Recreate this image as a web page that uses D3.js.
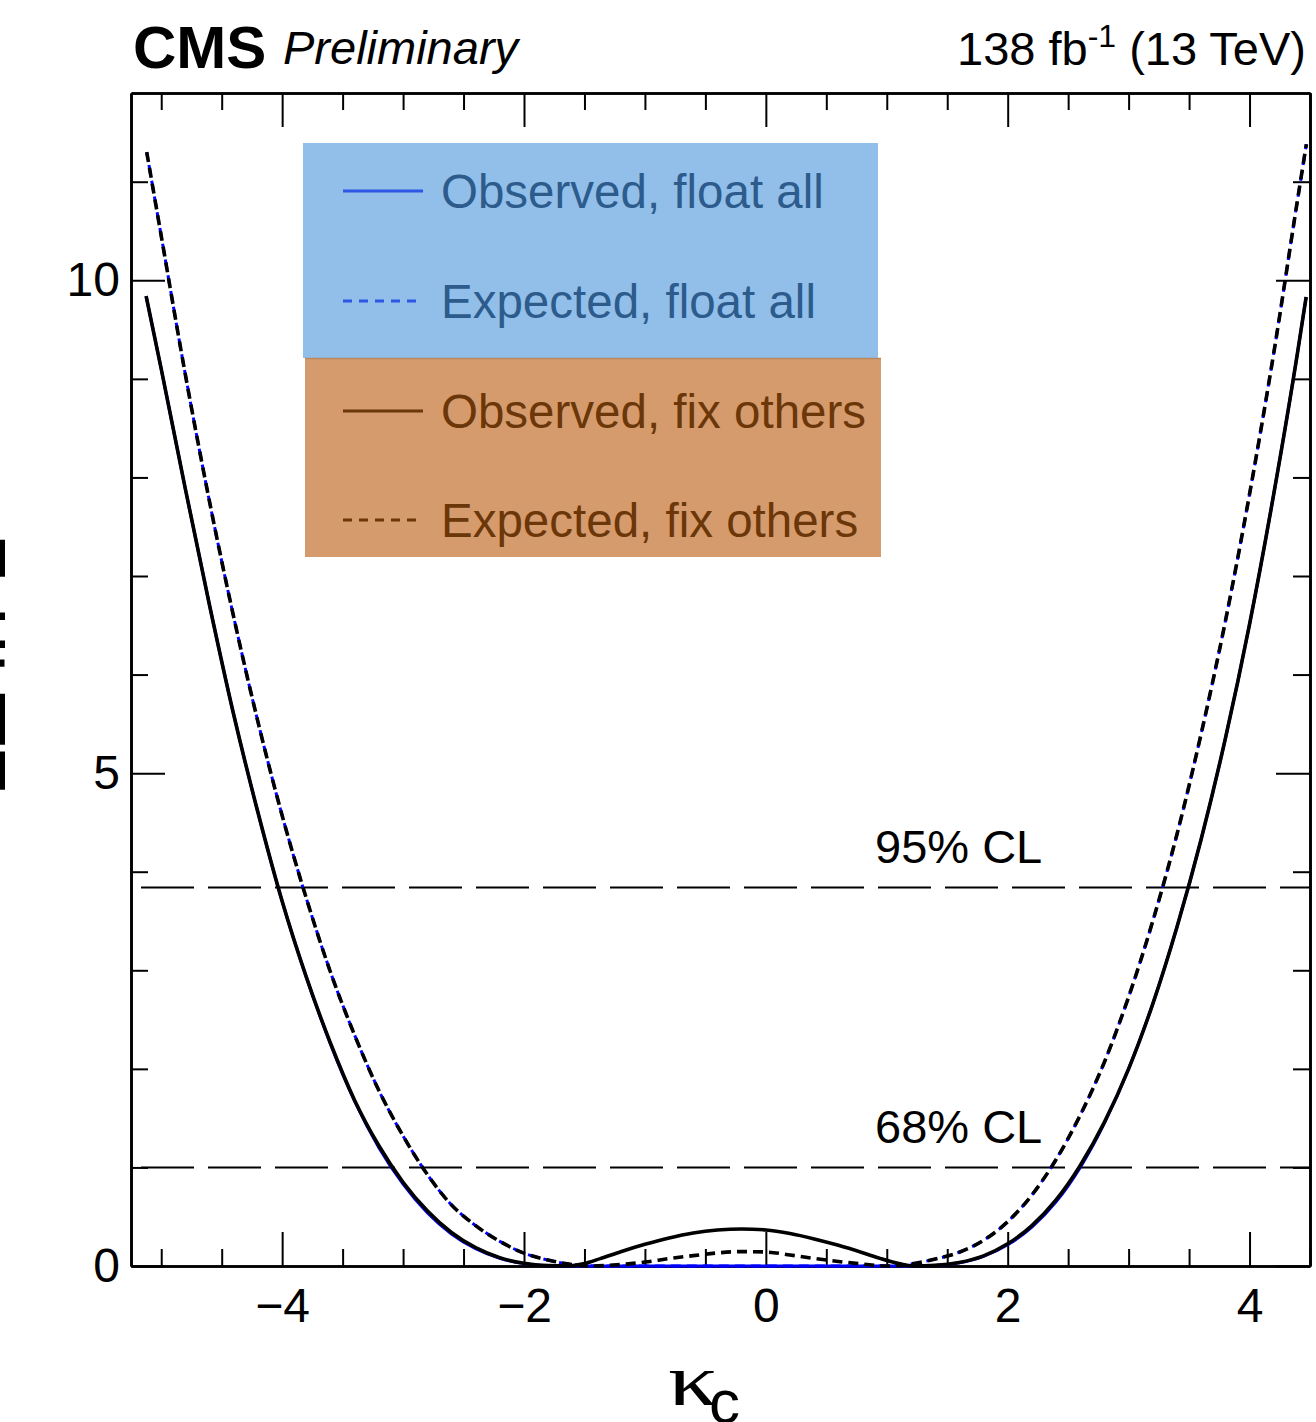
<!DOCTYPE html>
<html>
<head>
<meta charset="utf-8">
<script src="https://cdn.jsdelivr.net/npm/d3@7"></script>
<style>
  html, body { margin: 0; padding: 0; background: #fff; }
  svg { display: block; }
  text { font-family: "Liberation Sans", Arial, Helvetica, sans-serif; }
</style>
</head>
<body>
<svg id="chart" width="1316" height="1422"></svg>
<script>
// ---- Likelihood scan of kappa_c: -2 Delta ln L values ----
// Observed, fix others (black solid)
const kappaObsFix = [-5.125, -5.0, -4.8, -4.6, -4.4, -4.2, -4.0, -3.8, -3.6, -3.4, -3.2, -3.0, -2.8, -2.6, -2.4, -2.2, -2.0, -1.8, -1.64, -1.5, -1.37, -1.2, -1.0, -0.8, -0.6, -0.4, -0.2, 0.0, 0.2, 0.4, 0.6, 0.8, 0.95, 1.1, 1.22, 1.4, 1.6, 1.8, 2.0, 2.2, 2.4, 2.6, 2.8, 3.0, 3.2, 3.4, 3.6, 3.8, 4.0, 4.2, 4.4, 4.468];
const dnllObsFix  = [9.84, 9.1, 7.88, 6.7, 5.59, 4.6, 3.7, 2.93, 2.26, 1.68, 1.22, 0.85, 0.56, 0.34, 0.186, 0.084, 0.027, 0.004, 0.0, 0.025, 0.075, 0.145, 0.22, 0.285, 0.335, 0.365, 0.376, 0.366, 0.33, 0.275, 0.21, 0.135, 0.075, 0.025, 0.0, 0.006, 0.035, 0.103, 0.225, 0.41, 0.67, 1.02, 1.46, 2.0, 2.66, 3.44, 4.33, 5.35, 6.51, 7.83, 9.29, 9.83];

// Observed, float all (blue solid)
const kappaObsFloat = [-5.125, -5.0, -4.8, -4.6, -4.4, -4.2, -4.0, -3.8, -3.6, -3.4, -3.2, -3.0, -2.8, -2.6, -2.4, -2.2, -2.0, -1.8, -1.64, -1.2, -0.6, 0.0, 0.6, 1.22, 1.4, 1.6, 1.8, 2.0, 2.2, 2.4, 2.6, 2.8, 3.0, 3.2, 3.4, 3.6, 3.8, 4.0, 4.2, 4.4, 4.468];
const dnllObsFloat  = [9.84, 9.1, 7.88, 6.7, 5.59, 4.6, 3.7, 2.93, 2.25, 1.67, 1.2, 0.83, 0.54, 0.325, 0.175, 0.078, 0.024, 0.003, 0.0, 0.0, 0.0, 0.0, 0.0, 0.0, 0.005, 0.032, 0.098, 0.215, 0.395, 0.65, 1.0, 1.45, 2.0, 2.66, 3.44, 4.33, 5.35, 6.51, 7.83, 9.29, 9.83];

// Expected, fix others (black dashed)
const kappaExpFix = [-5.12, -5.0, -4.8, -4.6, -4.4, -4.2, -4.0, -3.8, -3.6, -3.4, -3.2, -3.0, -2.8, -2.6, -2.4, -2.2, -2.0, -1.8, -1.6, -1.45, -1.2, -1.0, -0.8, -0.6, -0.4, -0.2, 0.0, 0.2, 0.4, 0.6, 0.8, 1.0, 1.2, 1.4, 1.6, 1.8, 2.0, 2.2, 2.4, 2.6, 2.8, 3.0, 3.2, 3.4, 3.6, 3.8, 4.0, 4.2, 4.4, 4.47];
const dnllExpFix  = [11.3, 10.45, 9.04, 7.75, 6.58, 5.52, 4.57, 3.73, 2.98, 2.34, 1.78, 1.32, 0.93, 0.62, 0.41, 0.25, 0.13, 0.06, 0.015, 0.0, 0.015, 0.04, 0.075, 0.105, 0.133, 0.146, 0.142, 0.112, 0.077, 0.046, 0.02, 0.0, 0.02, 0.07, 0.14, 0.26, 0.45, 0.72, 1.08, 1.53, 2.07, 2.73, 3.5, 4.38, 5.4, 6.54, 7.83, 9.26, 10.84, 11.38];

// Expected, float all (blue dashed)
const kappaExpFloat = [-5.12, -5.0, -4.8, -4.6, -4.4, -4.2, -4.0, -3.8, -3.6, -3.4, -3.2, -3.0, -2.8, -2.6, -2.4, -2.2, -2.0, -1.8, -1.6, -1.45, -1.0, -0.5, 0.0, 0.5, 1.0, 1.2, 1.4, 1.6, 1.8, 2.0, 2.2, 2.4, 2.6, 2.8, 3.0, 3.2, 3.4, 3.6, 3.8, 4.0, 4.2, 4.4, 4.47];
const dnllExpFloat  = [11.3, 10.45, 9.04, 7.75, 6.58, 5.52, 4.57, 3.73, 2.98, 2.34, 1.78, 1.32, 0.93, 0.62, 0.41, 0.25, 0.13, 0.06, 0.015, 0.0, 0.0, 0.0, 0.0, 0.0, 0.0, 0.02, 0.07, 0.14, 0.26, 0.45, 0.72, 1.08, 1.53, 2.07, 2.73, 3.5, 4.38, 5.4, 6.54, 7.83, 9.26, 10.84, 11.38];

// Confidence-level thresholds
const clValues = [1.0, 3.84];
const clLabels = ["68% CL", "95% CL"];

// Axis ticks
const xMajorTicks = [-4, -2, 0, 2, 4];
const xMinorTicks = [-5, -4.5, -3.5, -3, -2.5, -1.5, -1, -0.5, 0.5, 1, 1.5, 2.5, 3, 3.5, 4.5];
const yMajorTicks = [0, 5, 10];
const yMinorTicks = [1, 2, 3, 4, 6, 7, 8, 9, 11];

// Legend
const legendLabels = ["Observed, float all", "Expected, float all", "Observed, fix others", "Expected, fix others"];

// ---- Layout ----
const svg = d3.select("#chart");
const L = 131, R = 1310, T = 93, B = 1266;
const x = d3.scaleLinear().domain([-5.25, 4.5]).range([L, R]);
const y = d3.scaleLinear().domain([0, 11.9]).range([B, T]);

const tickFont = 48;
const majorLen = 34, minorLen = 17;

function styleAxis(g, showLabels) {
  g.attr("font-family", null).attr("font-size", null);
  g.selectAll("path.domain").attr("stroke", "#000").attr("stroke-width", 2.6);
  g.selectAll(".tick line").attr("stroke", "#000").attr("stroke-width", 2);
  if (showLabels) {
    g.selectAll(".tick text").attr("fill", "#000").style("font-size", tickFont + "px")
      .style("font-family", '"Liberation Sans", Arial, Helvetica, sans-serif');
  } else {
    g.selectAll(".tick text").remove();
  }
}

// Minor ticks (no labels), on all four sides
svg.append("g").attr("transform", `translate(0,${B})`)
  .call(d3.axisBottom(x).tickValues(xMinorTicks).tickSize(-minorLen).tickSizeOuter(0).tickFormat(""))
  .call(g => styleAxis(g, false));
svg.append("g").attr("transform", `translate(0,${T})`)
  .call(d3.axisTop(x).tickValues(xMinorTicks).tickSize(-minorLen).tickSizeOuter(0).tickFormat(""))
  .call(g => styleAxis(g, false));
svg.append("g").attr("transform", `translate(${L},0)`)
  .call(d3.axisLeft(y).tickValues(yMinorTicks).tickSize(-minorLen).tickSizeOuter(0).tickFormat(""))
  .call(g => styleAxis(g, false));
svg.append("g").attr("transform", `translate(${R},0)`)
  .call(d3.axisRight(y).tickValues(yMinorTicks).tickSize(-minorLen).tickSizeOuter(0).tickFormat(""))
  .call(g => styleAxis(g, false));

// Major ticks
svg.append("g").attr("transform", `translate(0,${B})`)
  .call(d3.axisBottom(x).tickValues(xMajorTicks).tickSize(-majorLen).tickSizeOuter(0).tickPadding(22).tickFormat(d3.format("d")))
  .call(g => styleAxis(g, true));
svg.append("g").attr("transform", `translate(0,${T})`)
  .call(d3.axisTop(x).tickValues(xMajorTicks).tickSize(-majorLen).tickSizeOuter(0))
  .call(g => styleAxis(g, false));
svg.append("g").attr("transform", `translate(${L},0)`)
  .call(d3.axisLeft(y).tickValues(yMajorTicks).tickSize(-majorLen).tickSizeOuter(0).tickPadding(11).tickFormat(d3.format("d")))
  .call(g => styleAxis(g, true));
svg.append("g").attr("transform", `translate(${R},0)`)
  .call(d3.axisRight(y).tickValues(yMajorTicks).tickSize(-majorLen).tickSizeOuter(0))
  .call(g => styleAxis(g, false));

// Confidence-level lines and labels
clValues.forEach((v, i) => {
  svg.append("line")
    .attr("x1", x(-5.25)).attr("x2", x(4.5))
    .attr("y1", y(v)).attr("y2", y(v))
    .attr("stroke", "#000").attr("stroke-width", 2)
    .attr("stroke-dasharray", "53,14").attr("stroke-dashoffset", -10);
  svg.append("text")
    .attr("x", 875).attr("y", y(v) - 24)
    .style("font-size", "47px").attr("fill", "#000")
    .text(clLabels[i]);
});

// Legend
const legX = 303, legW = 575;
svg.append("rect").attr("x", legX).attr("y", 143).attr("width", legW).attr("height", 215).attr("fill", "#92bfea");
svg.append("rect").attr("x", legX + 2).attr("y", 358).attr("width", legW + 1).attr("height", 199).attr("fill", "#d59b6d");
svg.append("line").attr("x1", legX + 2).attr("x2", legX + legW + 3).attr("y1", 358.5).attr("y2", 358.5)
  .attr("stroke", "#b98660").attr("stroke-width", 1.5);

const legRows = [
  { y: 191, color: "#2d56e6", text: "#2c5b8c", dash: null },
  { y: 301, color: "#2d56e6", text: "#2c5b8c", dash: "9,7" },
  { y: 411, color: "#6b3608", text: "#6b3608", dash: null },
  { y: 520, color: "#6b3608", text: "#6b3608", dash: "9,7" }
];
legRows.forEach((r, i) => {
  svg.append("line").attr("x1", 343).attr("x2", 423).attr("y1", r.y).attr("y2", r.y)
    .attr("stroke", r.color).attr("stroke-width", 3)
    .attr("stroke-dasharray", r.dash);
  svg.append("text").attr("x", 441).attr("y", r.y + 17)
    .style("font-size", "47.5px").attr("fill", r.text)
    .text(legendLabels[i]);
});

// Curves
const line = d3.line().x(d => x(d[0])).y(d => y(d[1])).curve(d3.curveMonotoneX);
const zipPts = (xs, ys) => xs.map((v, i) => [v, ys[i]]);

svg.append("path").datum(zipPts(kappaObsFloat, dnllObsFloat)).attr("d", line)
  .attr("fill", "none").attr("stroke", "#0000ff").attr("stroke-width", 3);
svg.append("path").datum(zipPts(kappaExpFloat, dnllExpFloat)).attr("d", line)
  .attr("fill", "none").attr("stroke", "#0000ff").attr("stroke-width", 3)
  .attr("stroke-dasharray", "10,6").attr("stroke-dashoffset", 3);
svg.append("path").datum(zipPts(kappaObsFix, dnllObsFix)).attr("d", line)
  .attr("fill", "none").attr("stroke", "#000").attr("stroke-width", 3.6);
svg.append("path").datum(zipPts(kappaExpFix, dnllExpFix)).attr("d", line)
  .attr("fill", "none").attr("stroke", "#000").attr("stroke-width", 3.6)
  .attr("stroke-dasharray", "10,6");

// Header texts
svg.append("text").attr("x", 133).attr("y", 68)
  .style("font-size", "60px").style("font-weight", "bold").attr("fill", "#000").text("CMS");
svg.append("text").attr("x", 283).attr("y", 64)
  .style("font-size", "47px").style("font-style", "italic").attr("fill", "#000").text("Preliminary");

const lumi = svg.append("text").attr("x", 1306).attr("y", 65).attr("text-anchor", "end")
  .style("font-size", "47px").attr("fill", "#000");
lumi.append("tspan").text("138 fb");
lumi.append("tspan").attr("dy", -18).style("font-size", "32px").text("-1");
lumi.append("tspan").attr("dy", 18).text(" (13 TeV)");

// Axis titles: kappa with subscript c
svg.append("text").attr("x", 668).attr("y", 1405)
  .attr("textLength", 50).attr("lengthAdjust", "spacingAndGlyphs")
  .style("font-family", '"Liberation Serif", "Times New Roman", serif')
  .style("font-size", "74px").attr("fill", "#000").text("κ");
svg.append("text").attr("x", 709).attr("y", 1423)
  .style("font-family", '"Liberation Sans", Arial, Helvetica, sans-serif')
  .style("font-size", "62px").attr("fill", "#000").text("c");

svg.append("text")
  .attr("transform", "translate(4.5,537) rotate(-90)")
  .attr("text-anchor", "end")
  .style("font-size", "84px").attr("fill", "#000")
  .text("−2Δ ln L");
</script>
</body>
</html>
